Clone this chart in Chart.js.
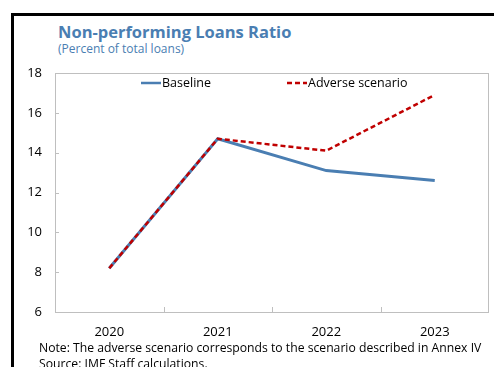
<!DOCTYPE html>
<html><head><meta charset="utf-8">
<script src="https://cdn.jsdelivr.net/npm/chart.js@4"></script>
<style>
html,body{margin:0;padding:0;background:#fff;}
#wrap{position:relative;width:494px;height:367px;overflow:hidden;font-family:"Open Sans","Noto Sans",sans-serif;}
#frame{position:absolute;left:11px;top:13px;width:600px;height:400px;border-top:3px solid #000;border-left:3px solid #000;}
#title{position:absolute;left:58px;top:20px;font-size:16.5px;font-weight:bold;color:#4a7eb2;white-space:nowrap;}
#sub{position:absolute;left:58px;top:40px;font-size:12px;color:#4a7eb2;white-space:nowrap;}
#note{position:absolute;left:39px;top:340px;font-size:12.2px;color:#000;white-space:nowrap;line-height:16px;}
canvas{position:absolute;left:0;top:0;}
</style></head>
<body><div id="wrap">
<div id="frame"></div>
<div id="title">Non-performing Loans Ratio</div>
<div id="sub">(Percent of total loans)</div>
<canvas id="c" width="494" height="367"></canvas>
<div id="note">Note: The adverse scenario corresponds to the scenario described in Annex IV<br>Source: IMF Staff calculations.</div>
</div>
<script>
const categories = ["2020","2021","2022","2023"];
const baseline = [8.2, 14.7, 13.1, 12.6];
const adverse = [8.2, 14.7, 14.1, 16.9];
const seriesNames = ["Baseline","Adverse scenario"];
const yTicks = [6,8,10,12,14,16,18];

const frameLines = {
  id:'frameLines',
  afterDraw(chart){
    const {ctx, chartArea:a, scales:{x,y}} = chart;
    ctx.save();
    ctx.strokeStyle = '#bfbfbf';
    ctx.lineWidth = 1;
    ctx.strokeRect(a.left+0.5, a.top+0.5, a.right-a.left-1, a.bottom-a.top);
    ctx.beginPath();
    yTicks.forEach(v=>{const py=Math.round(y.getPixelForValue(v))+0.5; ctx.moveTo(a.left,py); ctx.lineTo(a.left+4,py);});
    for(let i=1;i<categories.length;i++){
      const px=Math.round((x.getPixelForValue(i-1)+x.getPixelForValue(i))/2)+0.5;
      ctx.moveTo(px,a.bottom); ctx.lineTo(px,a.bottom-5);
    }
    ctx.stroke();
    // legend
    const items=[{ds:chart.data.datasets[0],x:141},{ds:chart.data.datasets[1],x:287}];
    const ly=a.top+10;
    ctx.font='12.5px "Open Sans","Noto Sans",sans-serif';
    ctx.textBaseline='middle';
    items.forEach(it=>{
      ctx.beginPath();
      ctx.strokeStyle=it.ds.borderColor;
      ctx.lineWidth=2.5;
      ctx.setLineDash(it.ds.borderDash||[]);
      ctx.moveTo(it.x,ly); ctx.lineTo(it.x+20,ly); ctx.stroke();
      ctx.setLineDash([]);
      ctx.fillStyle='#000';
      ctx.fillText(it.ds.label,it.x+21,ly);
    });
    ctx.restore();
  }
};

new Chart(document.getElementById('c'),{
  type:'line',
  data:{labels:categories,datasets:[
    {label:seriesNames[0],data:baseline,borderColor:'#4a7eb2',borderWidth:3,pointRadius:0,tension:0,fill:false,order:2},
    {label:seriesNames[1],data:adverse,borderColor:'#c00000',borderWidth:2.5,borderDash:[5,3],pointRadius:0,tension:0,fill:false,order:1}
  ]},
  options:{
    responsive:false,animation:false,devicePixelRatio:1,
    layout:{padding:{left:0,right:5,top:73,bottom:25}},
    plugins:{legend:{display:false},title:{display:false},tooltip:{enabled:false}},
    scales:{
      x:{offset:true,grid:{display:false,drawTicks:false},border:{display:false},
        ticks:{color:'#000',font:{family:'"Open Sans","Noto Sans",sans-serif',size:13},padding:12,maxRotation:0},
        afterFit(s){s.height=30;}},
      y:{min:6,max:18,grid:{display:false,drawTicks:false},border:{display:false},
        afterBuildTicks(s){s.ticks=yTicks.map(v=>({value:v}));},
        ticks:{color:'#000',font:{family:'"Open Sans","Noto Sans",sans-serif',size:13},padding:13},
        afterFit(s){s.width=55;}}
    }
  },
  plugins:[frameLines]
});
</script>
</body></html>
